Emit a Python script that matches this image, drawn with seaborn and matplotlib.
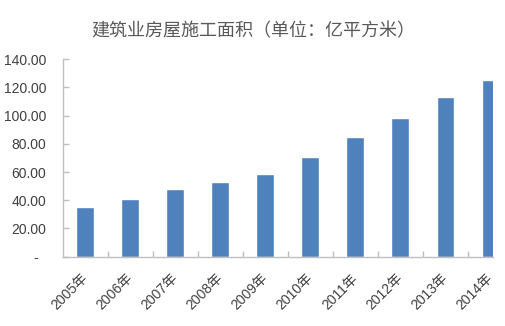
import numpy as np
import pandas as pd
import matplotlib
matplotlib.use("Agg")
import matplotlib.pyplot as plt
import seaborn as sns

years = ["2005年", "2006年", "2007年", "2008年", "2009年",
         "2010年", "2011年", "2012年", "2013年", "2014年"]
area = [35.3, 41.0, 48.2, 53.0, 58.8, 70.8, 85.2, 98.6, 113.3, 125.0]
y_ticks = [0, 20, 40, 60, 80, 100, 120, 140]
y_tick_labels = ["-  ", "20.00", "40.00", "60.00", "80.00", "100.00", "120.00", "140.00"]
title = "建筑业房屋施工面积（单位：亿平方米）"

sns.set_style("white")
plt.rcParams["font.family"] = ["Liberation Sans", "Noto Sans CJK SC"]

df = pd.DataFrame({"year": years, "area": area})

fig = plt.figure(figsize=(5.06, 3.26), dpi=100)
ax = fig.add_axes([0.1239, 0.2126, 0.8504, 0.6055])

sns.barplot(data=df, x="year", y="area", color="#4F81BD", saturation=1,
            width=0.39, ax=ax)

ax.set_xlim(-0.5, 9.06)
ax.set_ylim(0, 140)
ax.set_xlabel("")
ax.set_ylabel("")

axis_gray = "#BFBFBF"
text_gray = "#404040"
for side in ("top", "right"):
    ax.spines[side].set_visible(False)
for side in ("left", "bottom"):
    ax.spines[side].set_color(axis_gray)
    ax.spines[side].set_linewidth(1.0)

ax.set_yticks(y_ticks)
ax.set_yticklabels(y_tick_labels)
ax.tick_params(axis="y", direction="in", length=4, width=1, color=axis_gray,
               labelsize=10, labelcolor=text_gray, pad=12, left=True)

ax.set_xticks(range(len(years)))
ax.set_xticklabels(years, rotation=45, ha="right", va="center",
                   rotation_mode="anchor")
ax.tick_params(axis="x", which="major", length=0, labelsize=10,
               labelcolor=text_gray, pad=14)
ax.set_xticks(np.arange(0.5, 9.0, 1.0), minor=True)
ax.tick_params(axis="x", which="minor", direction="in", length=4, width=1,
               color=axis_gray, bottom=True)

fig.text(0.5, 0.905, title, ha="center", va="center", fontsize=13,
         color="#595959", family=["Noto Sans CJK SC"])

fig.savefig("out.png", dpi=100, facecolor="white")
